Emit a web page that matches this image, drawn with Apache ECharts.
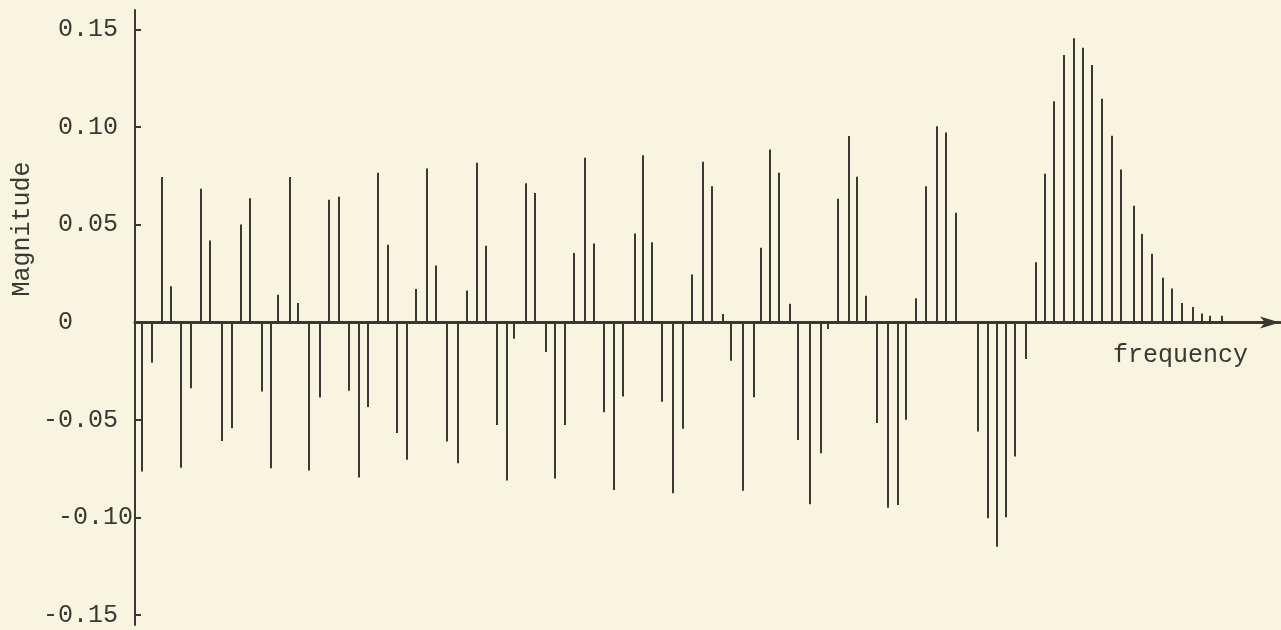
<!DOCTYPE html>
<html>
<head>
<meta charset="utf-8">
<title>Magnitude spectrum</title>
<script src="https://cdn.jsdelivr.net/npm/echarts@6/dist/echarts.min.js"></script>
<style>
  html, body { margin: 0; padding: 0; background: #f7f5df; }
  #chart { width: 1281px; height: 630px; }
</style>
</head>
<body>
<div id="chart"></div>
<script>
// Spectral lines: frequency position (arbitrary units) and signed magnitude
const frequency = [
  7, 17, 27, 36, 46, 56, 66, 75, 87, 97, 106, 115, 127, 136, 143, 155, 163,
  174, 185, 194, 204, 214, 224, 233, 243, 253, 262, 272, 281, 292,
  301, 312, 323, 332, 342, 351, 362, 372, 379, 391, 400, 411, 420, 430, 439,
  450, 459, 469, 479, 488, 500, 508, 517, 527, 538, 548, 557, 568, 577,
  588, 596, 608, 619, 626, 635, 644, 655, 663, 675, 686, 693, 703, 714, 722,
  731, 742, 753, 763, 771, 781, 791, 802, 811, 821, 843, 853, 862, 871, 880, 891,
  901, 910, 919, 929, 939, 948, 957, 967, 977, 986, 999, 1007, 1017, 1028, 1037,
  1047, 1058, 1067, 1075, 1087
];
const magnitude = [
  -0.0764, -0.0207, 0.0744, 0.0185, -0.0744, -0.0337, 0.0684, 0.0419, -0.0607, -0.0542,
  0.0501, 0.0636, -0.0354, -0.0747, 0.0142, 0.0744, 0.0099,
  -0.0759, -0.0385, 0.0628, 0.0643, -0.0350, -0.0795, -0.0434, 0.0766, 0.0398, -0.0567, -0.0704, 0.0171, 0.0788,
  0.0291, -0.0610, -0.0721, 0.0163, 0.0817, 0.0393, -0.0525, -0.0810, -0.0084, 0.0713, 0.0663, -0.0152, -0.0800, -0.0525, 0.0356,
  0.0843, 0.0404, -0.0460, -0.0858, -0.0379, 0.0455, 0.0856, 0.0410, -0.0406, -0.0875, -0.0545, 0.0245, 0.0823, 0.0697,
  0.0043, -0.0196, -0.0863, -0.0383, 0.0382, 0.0886, 0.0766, 0.0096, -0.0602, -0.0931, -0.0670, -0.0034, 0.0633, 0.0954, 0.0746,
  0.0137, -0.0516, -0.0949, -0.0935, -0.0499, 0.0123, 0.0697, 0.1004, 0.0973, 0.0561, -0.0559, -0.1003, -0.1149, -0.0998, -0.0687, -0.0188,
  0.0308, 0.0761, 0.1133, 0.1369, 0.1455, 0.1407, 0.1318, 0.1146, 0.0956, 0.0783, 0.0598, 0.0453, 0.0351, 0.0228, 0.0174,
  0.0099, 0.0079, 0.0045, 0.0034, 0.0034
];

// Magnitude axis ticks and their typed labels
const tickValues = [-0.15, -0.10, -0.05, 0, 0.05, 0.10, 0.15];
const tickLabels = ['-0.15', ' -0.10', '-0.05', ' 0', ' 0.05', ' 0.10', ' 0.15'];

const ink = '#3b3834';
const font = '"Liberation Mono", "DejaVu Sans Mono", monospace';

const chart = echarts.init(document.getElementById('chart'));

chart.setOption({
  backgroundColor: '#f7f5df',
  animation: false,
  grid: { left: 135, right: 1, top: 10, bottom: 5 },
  xAxis: {
    type: 'value',
    min: 0,
    max: 1145,
    axisLine: {
      onZero: true,
      symbol: ['none', 'arrow'],
      symbolSize: [9, 20],
      lineStyle: { color: ink, width: 3 }
    },
    axisTick: { show: false },
    axisLabel: { show: false },
    splitLine: { show: false }
  },
  yAxis: {
    type: 'value',
    min: -0.155,
    max: 0.16,
    axisLine: { show: true, lineStyle: { color: ink, width: 2 } },
    axisTick: {
      show: true,
      inside: true,
      length: 6,
      customValues: tickValues,
      lineStyle: { color: ink, width: 2 }
    },
    axisLabel: {
      show: true,
      customValues: tickValues,
      align: 'left',
      margin: 92,
      padding: [8, 0, 0, 0],
      color: ink,
      fontFamily: font,
      fontSize: 25,
      formatter: function (v) {
        const i = tickValues.findIndex(t => Math.abs(t - v) < 1e-9);
        return i >= 0 ? tickLabels[i] : '';
      }
    },
    splitLine: { show: false }
  },
  graphic: [
    {
      type: 'text',
      left: 1113,
      top: 343,
      style: { text: 'frequency', fill: ink, font: '25px ' + font }
    },
    {
      type: 'text',
      x: 10,
      y: 229,
      rotation: Math.PI / 2,
      style: {
        text: 'Magnitude',
        fill: ink,
        font: '25px ' + font,
        align: 'center',
        verticalAlign: 'top'
      }
    }
  ],
  series: [
    {
      type: 'bar',
      barWidth: 2,
      itemStyle: { color: ink },
      data: frequency.map((f, i) => [f, magnitude[i]])
    }
  ]
});
</script>
</body>
</html>
